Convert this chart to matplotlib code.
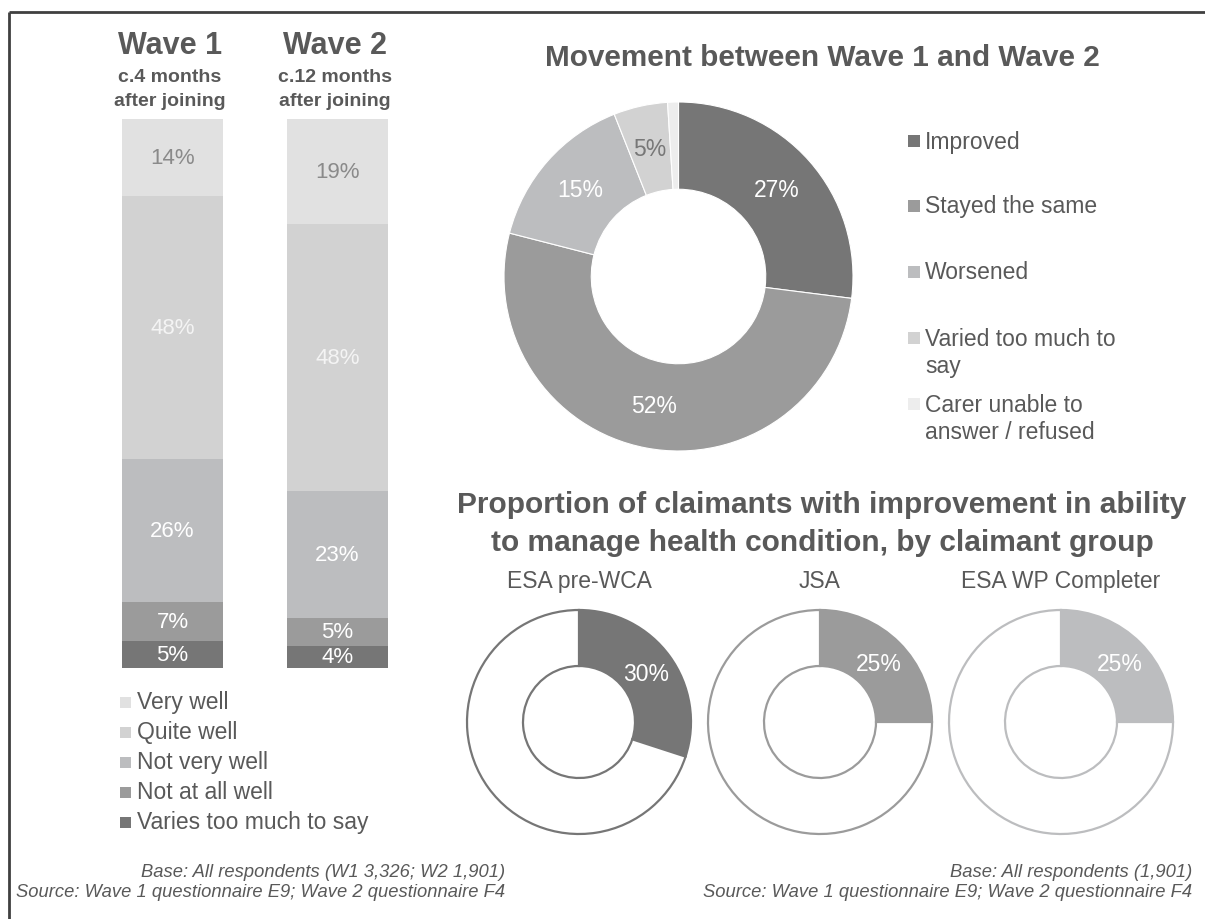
import matplotlib
matplotlib.use("Agg")
import matplotlib.pyplot as plt
from matplotlib.patches import Rectangle
import numpy as np

plt.rcParams['font.family'] = ['Liberation Sans', 'DejaVu Sans']

# ---- data ----
waves = ["Wave 1", "Wave 2"]
wave_notes = ["c.4 months\nafter joining", "c.12 months\nafter joining"]
manage_labels = ["Varies too much to say", "Not at all well", "Not very well",
                 "Quite well", "Very well"]  # bottom to top
wave1_vals = [5, 7, 26, 48, 14]
wave2_vals = [4, 5, 23, 48, 19]

move_labels = ["Improved", "Stayed the same", "Worsened",
               "Varied too much to\nsay", "Carer unable to\nanswer / refused"]
move_vals = [27, 52, 15, 5, 1]

groups = ["ESA pre-WCA", "JSA", "ESA WP Completer"]
improved_pct = [30, 25, 25]

# ---- styling ----
W, H = 1205, 920
TXT = "#595959"
manage_colors = ["#767676", "#9b9b9b", "#bcbdbf", "#d2d2d2", "#e1e1e1"]
manage_txt = ["white", "white", "white", "#f4f4f4", "#8a8a8a"]
move_colors = ["#767676", "#9b9b9b", "#bcbdbf", "#d2d2d2", "#ededed"]
move_txt = ["white", "white", "white", "#777777", TXT]
group_colors = ["#767676", "#9b9b9b", "#bcbdbf"]


def box(x, y, w, h):
    # pixel box (top-left origin) -> figure fraction rect
    return [x / W, 1 - (y + h) / H, w / W, h / H]


fig = plt.figure(figsize=(W / 100, H / 100), dpi=100)
ov = fig.add_axes([0, 0, 1, 1])
ov.set_xlim(0, W)
ov.set_ylim(H, 0)
ov.axis("off")

# frame (top and left edges)
ov.plot([9, W], [13, 13], color="#404040", lw=2, solid_capstyle="butt")
ov.plot([9, 9], [13, H], color="#404040", lw=2, solid_capstyle="butt")

# ---- stacked bars ----
bx = fig.add_axes(box(90, 120, 330, 549))
bx.set_xlim(-0.5, 1.5)
bx.set_ylim(0, 1)
bx.axis("off")
for i, vals in enumerate([wave1_vals, wave2_vals]):
    fr = np.array(vals) / sum(vals)
    bottoms = np.concatenate([[0], np.cumsum(fr)[:-1]])
    bx.bar([i] * len(fr), fr, bottom=bottoms, width=0.612,
           color=manage_colors, linewidth=0)
    for v, f, b, tc in zip(vals, fr, bottoms, manage_txt):
        bx.text(i, b + f / 2, f"{v}%", ha="center", va="center",
                fontsize=16, color=tc)

for i, (name, note) in enumerate(zip(waves, wave_notes)):
    cx = 170 + 165 * i
    ov.text(cx, 46, name, ha="center", va="center", fontsize=22,
            fontweight="bold", color=TXT)
    for j, line in enumerate(note.split("\n")):
        ov.text(cx, 78 + 24 * j, line, ha="center", va="center",
                fontsize=14, fontweight="bold", color=TXT)

# left legend (top to bottom)
for k, (lab, col) in enumerate(zip(manage_labels[::-1], manage_colors[::-1])):
    y = 703 + 30 * k
    ov.add_patch(Rectangle((120, y - 5), 11, 11, color=col, lw=0))
    ov.text(137, y, lab, ha="left", va="center", fontsize=16.5, color=TXT)

# ---- movement donut ----
ov.text(822, 58, "Movement between Wave 1 and Wave 2", ha="center",
        va="center", fontsize=21.4, fontweight="bold", color=TXT)
px = fig.add_axes(box(504, 103, 349, 349))
wedges, _, autotexts = px.pie(
    move_vals, colors=move_colors, startangle=90, counterclock=False,
    autopct=lambda p: f"{p:.0f}%" if p > 2 else "", pctdistance=0.75,
    wedgeprops=dict(width=0.5, edgecolor="white", linewidth=0.8),
    textprops=dict(fontsize=16.5))
for t, c in zip(autotexts, move_txt):
    t.set_color(c)
px.set_xlim(-1, 1)
px.set_ylim(-1, 1)

legend_y = [142, 207, 273, 353, 419]
for lab, col, y in zip(move_labels, move_colors, legend_y):
    ny = lab.count("\n")
    ytop = y - 14 * ny
    ov.add_patch(Rectangle((908, ytop - 6), 12, 12, color=col, lw=0))
    ov.text(925, y, lab, ha="left", va="center", fontsize=16.5,
            color=TXT, linespacing=1.25)

# ---- group donuts ----
title2 = ["Proportion of claimants with improvement in ability",
          "to manage health condition, by claimant group"]
for j, line in enumerate(title2):
    ov.text(822, 505 + 38 * j, line, ha="center", va="center",
            fontsize=21.5, fontweight="bold", color=TXT)
centers_x = [579, 820, 1061]
for g, pct, col, cx in zip(groups, improved_pct, group_colors, centers_x):
    ov.text(cx, 582, g, ha="center", va="center", fontsize=16.5, color=TXT)
    ax = fig.add_axes(box(cx - 114, 723 - 114, 228, 228))
    _, _, at = ax.pie([pct, 100 - pct], colors=[col, "white"], startangle=90,
                      counterclock=False, radius=112 / 114,
                      autopct=lambda p: f"{p:.0f}%" if p < 50 else "",
                      pctdistance=0.74,
                      wedgeprops=dict(width=0.5 * 112 / 114, edgecolor=col,
                                      linewidth=1.6),
                      textprops=dict(fontsize=16.5, color="white"))
    ax.set_xlim(-1, 1)
    ax.set_ylim(-1, 1)

# ---- footnotes ----
base_l = "Base: All respondents (W1 3,326; W2 1,901)"
base_r = "Base: All respondents (1,901)"
source = "Source: Wave 1 questionnaire E9; Wave 2 questionnaire F4"
for xr, base in [(505, base_l), (1192, base_r)]:
    ov.text(xr, 873, base, ha="right", va="center", fontsize=13.2,
            style="italic", color=TXT)
    ov.text(xr, 893, source, ha="right", va="center", fontsize=13.2,
            style="italic", color=TXT)

fig.savefig("out.png", dpi=100)
